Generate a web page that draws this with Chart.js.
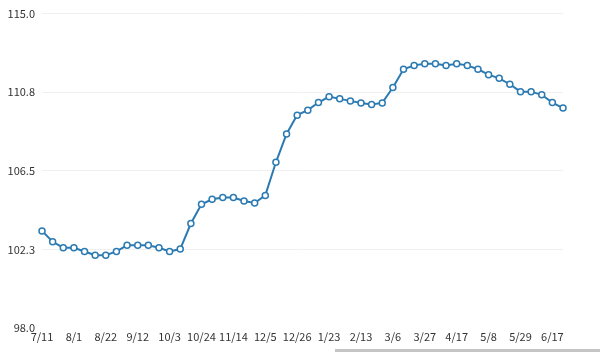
<!DOCTYPE html>
<html>
<head>
<meta charset="utf-8">
<script src="https://cdn.jsdelivr.net/npm/chart.js@4"></script>
<style>
  html, body { margin: 0; padding: 0; background: #fff; }
  #wrap { position: relative; width: 600px; height: 352px; }
  #bar { position: absolute; left: 335px; top: 349px; width: 265px; height: 3px; background: #c4c4c4; }
</style>
</head>
<body>
<div id="wrap">
  <canvas id="chart" width="600" height="352"></canvas>
  <div id="bar"></div>
</div>
<script>
// weekly dates, every third one is shown on the axis
const dates = [
  '7/11', '7/18', '7/25', '8/1', '8/8', '8/15', '8/22', '8/29', '9/5', '9/12',
  '9/19', '9/26', '10/3', '10/10', '10/17', '10/24', '10/31', '11/7', '11/14', '11/21',
  '11/28', '12/5', '12/12', '12/19', '12/26', '1/9', '1/16', '1/23', '1/30', '2/6',
  '2/13', '2/20', '2/27', '3/6', '3/13', '3/20', '3/27', '4/3', '4/10', '4/17',
  '4/24', '5/1', '5/8', '5/15', '5/22', '5/29', '6/5', '6/12', '6/17', '6/24'
];

const values = [
  103.25, 102.66, 102.34, 102.34, 102.14, 101.94, 101.94, 102.14, 102.47, 102.47,
  102.47, 102.34, 102.14, 102.27, 103.65, 104.69, 104.96, 105.06, 105.06, 104.87,
  104.76, 105.17, 106.96, 108.49, 109.51, 109.78, 110.19, 110.51, 110.39, 110.28,
  110.17, 110.08, 110.17, 111.0, 111.99, 112.2, 112.29, 112.29, 112.2, 112.29,
  112.2, 111.99, 111.7, 111.5, 111.18, 110.78, 110.78, 110.61, 110.19, 109.89
];

const yMin = 98.0;
const yMax = 115.0;
const yStep = 4.25;

const lineColor = '#2b7bb2';
const labelFont = { family: '"Noto Sans CJK JP", "Noto Sans", sans-serif', size: 11 };

new Chart(document.getElementById('chart'), {
  type: 'line',
  data: {
    labels: dates,
    datasets: [
      {
        label: 'value',
        data: values,
        borderColor: lineColor,
        borderWidth: 2,
        pointRadius: 3,
        pointBorderWidth: 1.5,
        pointBackgroundColor: '#fff',
        pointBorderColor: lineColor,
        tension: 0,
        fill: false
      }
    ]
  },
  options: {
    responsive: false,
    animation: false,
    layout: { padding: { left: 0, right: 37, top: 12, bottom: 0 } },
    plugins: {
      legend: { display: false },
      tooltip: { enabled: false }
    },
    scales: {
      x: {
        offset: false,
        grid: { display: false },
        border: { display: false },
        ticks: {
          autoSkip: false,
          maxRotation: 0,
          padding: -6,
          color: '#333',
          font: labelFont,
          callback: function (val, index) {
            return index % 3 === 0 ? this.getLabelForValue(val) : '';
          }
        },
        afterFit: function (scale) { scale.height = 24; }
      },
      y: {
        min: yMin,
        max: yMax,
        border: { display: false },
        grid: {
          drawTicks: false,
          color: function (ctx) {
            return ctx.tick && ctx.tick.value === yMin ? 'rgba(0,0,0,0)' : '#f0f0f0';
          }
        },
        ticks: {
          stepSize: yStep,
          padding: 7,
          color: '#333',
          font: labelFont,
          callback: function (v) { return v.toFixed(1); }
        },
        afterFit: function (scale) { scale.width = 42; }
      }
    }
  }
});
</script>
</body>
</html>
